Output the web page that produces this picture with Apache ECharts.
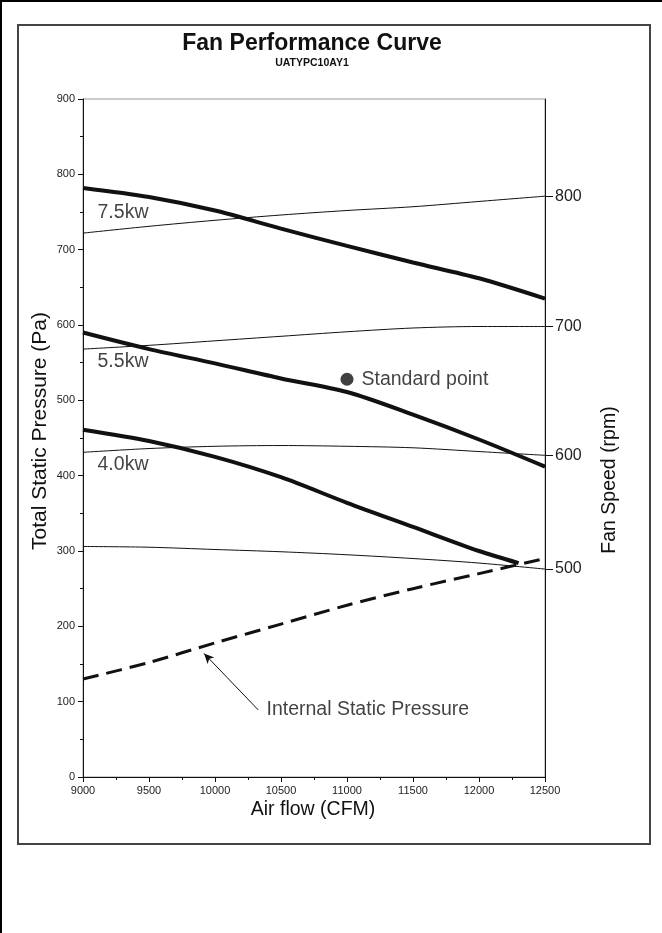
<!DOCTYPE html>
<html>
<head>
<meta charset="utf-8">
<script src="https://cdn.jsdelivr.net/npm/echarts@6/dist/echarts.min.js"></script>
<style>
html,body{margin:0;padding:0;background:#fff;}
#c{width:662px;height:933px;}
</style>
</head>
<body>
<div id="c"></div>
<script>
// ---- data ----
const airflow = [9000, 9500, 10000, 10500, 11000, 11500, 12000, 12500];
const kw75 = [782, 770, 752, 728, 705, 683, 662, 635];
const kw55 = [590, 568, 549, 529, 511, 481, 448, 412];
const airflow40 = [9000, 9500, 10000, 10500, 11000, 11500, 12000, 12300];
const kw40 = [461, 446, 425, 398, 364, 332, 300, 284];
const rpm800 = [722, 731, 739, 746, 752, 757, 764, 771];
const rpm700 = [568, 573, 579, 585, 591, 596, 598, 598];
const rpm600 = [431, 436, 439, 440, 439, 437, 432, 427];
const rpm500 = [306, 305, 302, 299, 295, 290, 284, 276];
const internalSP = [130, 152, 178, 203, 228, 250, 270, 290];
const rpmTickLabels = ['800', '700', '600', '500'];
const kwNames = ['7.5kw', '5.5kw', '4.0kw'];
const kwLabelPos = [[9110, 749], [9110, 551], [9110, 414]];
const standardPoint = [11000, 528];
const ispLabelPos = [10390, 90];
const ispArrow = [[10328, 89], [9917, 164]];
const xTicks = [9000, 12500, 500];
const yTicks = [0, 900, 100];

const FONT = 'Liberation Sans';
const LBL = 19.5;
const rpmSeries = [rpm800, rpm700, rpm600, rpm500];
const rpmEnds = rpmSeries.map(s => s[s.length - 1]);

function pairs(xs, ys) { return xs.map((x, i) => [x, ys[i]]); }

const thick = { color: '#111', width: 4 };
const thin = { color: '#111', width: 1 };

const series = [];
[kw75, kw55].forEach(arr => series.push({
  type: 'line', data: pairs(airflow, arr), smooth: 0.3, symbol: 'none',
  lineStyle: thick, z: 3
}));
series.push({
  type: 'line', data: pairs(airflow40, kw40), smooth: 0.3, symbol: 'none',
  lineStyle: thick, z: 3
});
rpmSeries.forEach(arr => series.push({
  type: 'line', data: pairs(airflow, arr), smooth: 0.3, symbol: 'none',
  lineStyle: thin, z: 2
}));
series.push({
  type: 'line', data: pairs(airflow, internalSP), smooth: 0.3, symbol: 'none',
  lineStyle: { color: '#111', width: 3, type: [16, 8] }, z: 3,
  markLine: {
    silent: true, symbol: ['none', 'arrow'], symbolSize: [7, 10],
    lineStyle: { color: '#111', width: 1, type: 'solid' },
    label: { show: false },
    data: [[{ coord: ispArrow[0] }, { coord: ispArrow[1] }]]
  }
});
series.push({
  type: 'scatter', data: [standardPoint], symbolSize: 13,
  itemStyle: { color: '#111' },
  label: { show: true, position: 'right', distance: 8, formatter: 'Standard point',
    fontFamily: FONT, fontSize: LBL, color: '#111' }, z: 4
});
series.push({
  type: 'scatter', symbolSize: 0,
  data: kwLabelPos.map((p, i) => ({ value: p, name: kwNames[i] })),
  label: { show: true, position: 'right', distance: 0, formatter: '{b}',
    fontFamily: FONT, fontSize: LBL, color: '#111' }
});
series.push({
  type: 'scatter', symbolSize: 0,
  data: [{ value: ispLabelPos, name: 'Internal Static Pressure' }],
  label: { show: true, position: 'right', distance: 0, formatter: '{b}',
    fontFamily: FONT, fontSize: LBL, color: '#111' }
});

const chart = echarts.init(document.getElementById('c'), null, { renderer: 'canvas' });
chart.setOption({
  backgroundColor: '#fff',
  animation: false,
  textStyle: { fontFamily: FONT },
  grid: { left: 83, right: 117, top: 99, bottom: 156, show: true,
    borderColor: '#999', borderWidth: 1, backgroundColor: 'transparent' },
  xAxis: {
    type: 'value', min: xTicks[0], max: xTicks[1], interval: xTicks[2],
    axisLine: { show: true, lineStyle: { color: '#111', width: 1 } },
    axisTick: { show: true, length: 5, lineStyle: { color: '#111' } },
    minorTick: { show: true, splitNumber: 2, length: 3, lineStyle: { color: '#111' } },
    splitLine: { show: false },
    axisLabel: { fontFamily: FONT, fontSize: 11, color: '#222', margin: 8, formatter: v => String(v) }
  },
  yAxis: [{
    type: 'value', min: yTicks[0], max: yTicks[1], interval: yTicks[2],
    axisLine: { show: true, lineStyle: { color: '#111', width: 1 } },
    axisTick: { show: true, length: 5, lineStyle: { color: '#111' } },
    minorTick: { show: true, splitNumber: 2, length: 3, lineStyle: { color: '#111' } },
    splitLine: { show: false },
    axisLabel: { fontFamily: FONT, fontSize: 11, color: '#222', margin: 8 }
  }, {
    type: 'value', position: 'right', min: yTicks[0], max: yTicks[1],
    axisLine: { show: true, onZero: false, lineStyle: { color: '#111', width: 1 } },
    axisTick: { show: true, length: 8, customValues: rpmEnds, lineStyle: { color: '#111' } },
    splitLine: { show: false },
    axisLabel: { fontFamily: FONT, fontSize: 16, color: '#222', margin: 10,
      customValues: rpmEnds,
      formatter: v => { const i = rpmEnds.indexOf(v); return i >= 0 ? rpmTickLabels[i] : ''; } }
  }],
  graphic: [
    { type: 'rect', shape: { x: 0, y: 0, width: 662, height: 2 }, style: { fill: '#000' }, z: 100 },
    { type: 'rect', shape: { x: 0, y: 0, width: 2, height: 933 }, style: { fill: '#000' }, z: 100 },
    { type: 'rect', shape: { x: 18, y: 25, width: 632, height: 819 },
      style: { fill: 'none', stroke: '#444', lineWidth: 2 }, z: 100 },
    { type: 'text', x: 312, y: 44, style: { text: 'Fan Performance Curve', fontFamily: FONT,
      fontWeight: 'bold', fontSize: 23, fill: '#111', textAlign: 'center', textVerticalAlign: 'middle' } },
    { type: 'text', x: 312, y: 63, style: { text: 'UATYPC10AY1', fontFamily: FONT,
      fontWeight: 'bold', fontSize: 10.5, fill: '#111', textAlign: 'center', textVerticalAlign: 'middle' } },
    { type: 'text', x: 313, y: 810, style: { text: 'Air flow (CFM)', fontFamily: FONT,
      fontSize: LBL, fill: '#111', textAlign: 'center', textVerticalAlign: 'middle' } },
    { type: 'text', x: 40, y: 431, rotation: Math.PI / 2, style: { text: 'Total Static Pressure (Pa)', fontFamily: FONT,
      fontSize: 21, fill: '#111', textAlign: 'center', textVerticalAlign: 'middle' } },
    { type: 'text', x: 610, y: 480, rotation: Math.PI / 2, style: { text: 'Fan Speed (rpm)', fontFamily: FONT,
      fontSize: LBL, fill: '#111', textAlign: 'center', textVerticalAlign: 'middle' } }
  ],
  series: series
});
</script>
</body>
</html>
